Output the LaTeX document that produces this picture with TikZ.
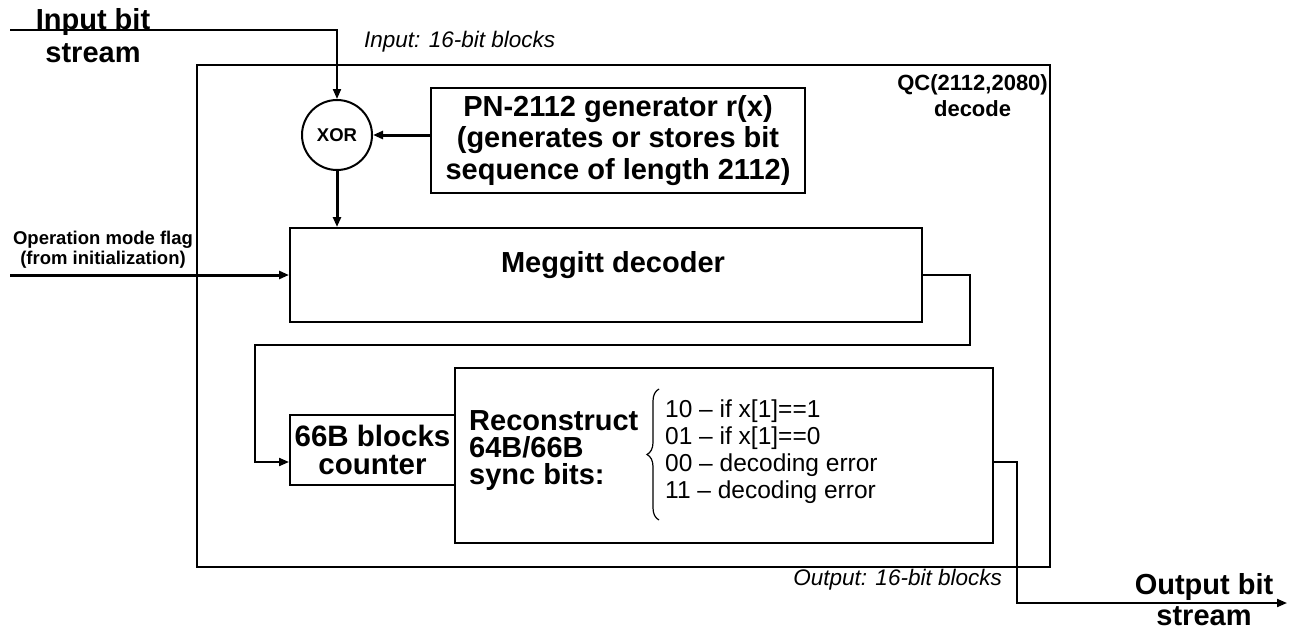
\documentclass[tikz,border=0pt]{standalone}
\usepackage{fontspec}
\setmainfont{Liberation Sans}
\usetikzlibrary{arrows.meta, positioning, decorations.pathreplacing, calc}

\begin{document}
\begin{tikzpicture}[
        x=1pt, y=-1pt,
        wire/.style = {draw=black, line width=2pt},
        fatwire/.style = {draw=black, line width=3pt},
        arrow/.style = {-{Triangle[length=10pt, width=8pt]}},
        box/.style = {draw, rectangle, line width=2pt, inner sep=0pt, align=center},
        bigtxt/.style = {font=\bfseries\fontsize{29}{31.5}\selectfont},
        midtxt/.style = {font=\bfseries\fontsize{18.5}{20}\selectfont},
        ittxt/.style = {font=\itshape\fontsize{22.5}{26}\selectfont},
        brace/.style = {decorate, decoration={brace, amplitude=12pt}, line width=1.2pt}
    ]
        \useasboundingbox (0,0) rectangle (1290,629);

        % decoder frame
        \node (frame) [box, minimum width=853pt, minimum height=502pt] at (623.5,316) {};
        \node (qclabel) [inner sep=0pt, align=center, font=\bfseries\fontsize{22}{26}\selectfont, anchor=north east] at (1048,74) {QC(2112,2080)\\decode};

        % XOR and PN generator
        \node (xor) [draw, circle, line width=2pt, minimum size=70pt, inner sep=0pt, font=\bfseries\fontsize{18.5}{20}\selectfont] at (337,135) {XOR};
        \node (pngen) [box, bigtxt, minimum width=374pt, minimum height=105pt] at (618,140.5) {PN-2112 generator r(x)\\(generates or stores bit\\sequence of length 2112)};

        % Meggitt decoder
        \node (meggitt) [box, minimum width=632pt, minimum height=94pt] at (606,275) {};
        \node (megtext) [inner sep=0pt, bigtxt, anchor=north] at (613,251) {Meggitt decoder};

        % counter and sync bits
        \node (counter) [box, font=\bfseries\fontsize{29.5}{28}\selectfont, minimum width=165pt, minimum height=70pt] at (372.5,450) {66B blocks\\counter};
        \node (recon) [box, minimum width=538pt, minimum height=175pt] at (724,455.5) {};
        \node (recontext) [inner sep=0pt, align=left, anchor=west, font=\bfseries\fontsize{29}{27}\selectfont] at (469,451) {Reconstruct\\64B/66B\\sync bits:};
        \node (syncopts) [inner sep=0pt, align=left, anchor=west, font=\fontsize{24.5}{27}\selectfont] at (665,452) {10 – if x[1]==1\\01 – if x[1]==0\\00 – decoding error\\11 – decoding error};
        \coordinate (braceLo) at (659,520);
        \coordinate (braceHi) at (659,389);
        \draw [brace] (braceLo) -- (braceHi);

        % outside labels
        \node (inlabel) [inner sep=0pt, align=center, font=\bfseries\fontsize{29}{33}\selectfont, anchor=north] at (93,8) {Input bit\\stream};
        \node (inblocks) [inner sep=0pt, ittxt, anchor=north west] at (364,31) {Input: 16-bit blocks};
        \node (oplabel) [inner sep=0pt, align=center, midtxt, anchor=north] at (103,231) {Operation mode flag\\(from initialization)};
        \node (outblocks) [inner sep=0pt, ittxt, anchor=north east] at (1002,569) {Output: 16-bit blocks};
        \node (outlabel) [inner sep=0pt, align=center, font=\bfseries\fontsize{29}{31}\selectfont, anchor=north] at (1204,573) {Output bit\\stream};

        % free ends and bends
        \coordinate (inStart) at (10,30);
        \coordinate (opStart) at (10,275);
        \coordinate (fbTurn) at (255,345);
        \coordinate (fbIn) at ([yshift=-12pt]counter.west);
        \coordinate (outEnd) at (1287,603);

        % connectors
        \draw [wire, arrow] (inStart) -| (xor.north);
        \draw [fatwire, arrow] (xor.east -| pngen.west) -- (xor.east);
        \draw [fatwire, arrow] (xor.south) -- (xor.south |- meggitt.north);
        \draw [fatwire, arrow] (opStart) -- (meggitt.west);
        \draw [wire, arrow] (meggitt.east) -- ++(47,0) |- (fbTurn) |- (fbIn);
        \draw [wire, arrow] ([yshift=-6.5pt]recon.east) -- ++(23,0) |- (outEnd);

    \end{tikzpicture}
\end{document}
